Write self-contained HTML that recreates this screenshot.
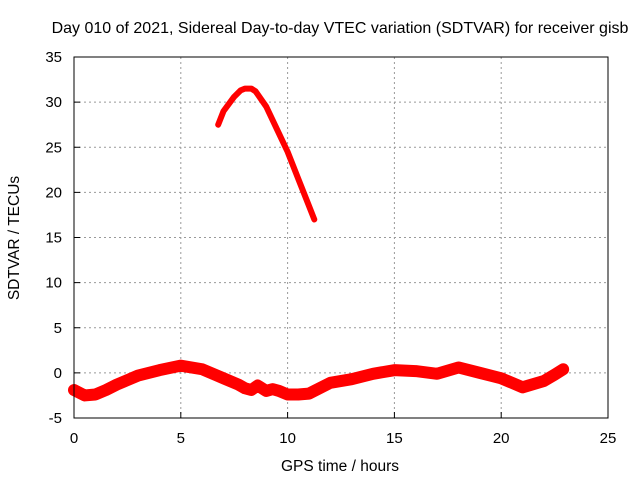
<!DOCTYPE html>
<html><head><meta charset="utf-8"><style>
body{margin:0;background:#fff}
svg{display:block;font-family:"Liberation Sans",sans-serif}
</style></head><body>
<svg id="chart" width="640" height="480">
<text x="340" y="33" font-size="16" text-anchor="middle">Day 010 of 2021, Sidereal Day-to-day VTEC variation (SDTVAR) for receiver gisb</text>
<text x="340" y="471" font-size="15.5" text-anchor="middle">GPS time / hours</text>
<text transform="translate(19,238) rotate(-90)" font-size="15.5" text-anchor="middle">SDTVAR / TECUs</text>
<g id="grid"></g><g id="series"></g>
<rect x="74" y="57" width="534" height="361" fill="none" stroke="#000" stroke-width="1"/>
</svg>
<script>
const xTicks=[0,5,10,15,20,25];
const yTicks=[-5,0,5,10,15,20,25,30,35];
const lowT=[0,0.5,1,1.5,2,3,4,5,6,7,7.7,8,8.3,8.6,9,9.3,9.6,10,10.5,11,12,13,14,15,16,17,18,19,20,21,22,22.5,22.9];
const lowV=[-1.9,-2.5,-2.4,-1.9,-1.3,-0.3,0.3,0.8,0.4,-0.6,-1.3,-1.7,-1.9,-1.4,-2.0,-1.8,-2.0,-2.4,-2.4,-2.3,-1.1,-0.7,-0.1,0.3,0.2,-0.1,0.6,0.0,-0.6,-1.6,-0.9,-0.2,0.4];
const highT=[6.75,7,7.5,7.8,8,8.3,8.5,9,9.5,10,10.5,11,11.25];
const highV=[27.5,29,30.6,31.3,31.5,31.5,31.2,29.5,27,24.5,21.5,18.5,17];
const X=t=>74+t*534/25, Y=v=>418-(v+5)*361/40;
const NS="http://www.w3.org/2000/svg";
const svg=document.getElementById('chart'),g=document.getElementById('grid'),s=document.getElementById('series');
function mk(tag,a,p){const e=document.createElementNS(NS,tag);for(const k in a)e.setAttribute(k,a[k]);p.appendChild(e);return e;}
xTicks.forEach(t=>{
 if(t>0&&t<25){const l=mk('line',{x1:X(t),x2:X(t),y1:57,y2:418,stroke:'#999','stroke-dasharray':'2,3'},g);
 
 }
 mk('line',{x1:X(t),x2:X(t),y1:418,y2:412,stroke:'#000'},g);
 const tx=mk('text',{x:X(t),y:443,'font-size':15,'text-anchor':'middle'},g);tx.textContent=t;
 
 
});
yTicks.forEach(v=>{
 if(v>-5&&v<35){const l=mk('line',{x1:74,x2:608,y1:Y(v),y2:Y(v),stroke:'#999','stroke-dasharray':'2,3'},g);
 
 }
 mk('line',{x1:74,x2:80,y1:Y(v),y2:Y(v),stroke:'#000'},g);
 const tx=mk('text',{x:62,y:Y(v)+5,'font-size':15,'text-anchor':'end'},g);tx.textContent=v;
 
 
});
const p1=mk('polyline',{points:lowT.map((t,i)=>X(t)+','+Y(lowV[i])).join(' '),fill:'none',stroke:'#f00','stroke-width':12,'stroke-linejoin':'round','stroke-linecap':'round'},s);


const p2=mk('polyline',{points:highT.map((t,i)=>X(t)+','+Y(highV[i])).join(' '),fill:'none',stroke:'#f00','stroke-width':6,'stroke-linejoin':'round','stroke-linecap':'round'},s);


</script>
</body></html>
